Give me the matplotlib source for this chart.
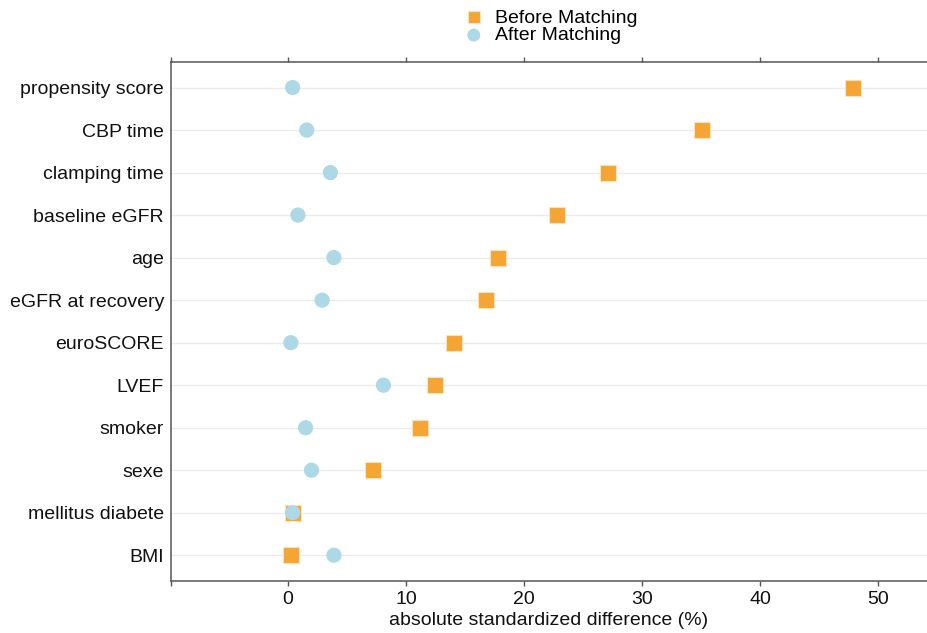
import matplotlib
matplotlib.use("Agg")
import matplotlib.pyplot as plt

plt.rcParams['font.family'] = ['Liberation Sans', 'DejaVu Sans']

variables = ["propensity score", "CBP time", "clamping time", "baseline eGFR", "age",
             "eGFR at recovery", "euroSCORE", "LVEF", "smoker", "sexe",
             "mellitus diabete", "BMI"]
before = [47.9, 35.1, 27.1, 22.8, 17.8, 16.8, 14.1, 12.5, 11.2, 7.2, 0.4, 0.25]
after = [0.4, 1.6, 3.6, 0.85, 3.9, 2.9, 0.25, 8.1, 1.5, 2.0, 0.4, 3.9]
xticks = [0, 10, 20, 30, 40, 50]

fig = plt.figure(figsize=(9.27, 6.33), dpi=100)
ax = fig.add_axes([0.1845, 0.0825, 0.8155, 0.8195])

n = len(variables)
ypos = list(range(n - 1, -1, -1))

for y in ypos:
    ax.axhline(y, color="#ebebeb", lw=1.0, zorder=0)

ax.scatter(before, ypos, marker="s", s=120, color="#F4A533", edgecolors="#FCE3BD",
           linewidths=0.8, label="Before Matching", zorder=3)
ax.scatter(after, ypos, marker="o", s=120, color="#ADD8E6", edgecolors="none",
           label="After Matching", zorder=4)

xmin, xmax = -9.9, 54.15
ax.set_xlim(xmin, xmax)
ax.set_ylim(-0.6, n - 1 + 0.6)
ax.set_yticks(ypos)
ax.set_yticklabels(variables, fontsize=14, color="#111111")
ax.set_xticks(xticks)
ax.set_xticks([xmin], minor=True)
ax.set_xticklabels([str(t) for t in xticks], fontsize=14, color="#111111")
ax.tick_params(axis="y", length=0, pad=5)
ax.tick_params(axis="x", which="both", direction="out", length=3.5, width=1.0,
               color="#555555", top=True, labeltop=False, pad=4)
ax.set_xlabel("absolute standardized difference (%)", fontsize=14, color="#111111", labelpad=3)

for side in ["left", "bottom", "top"]:
    ax.spines[side].set_color("#555555")
    ax.spines[side].set_linewidth(1.1)
ax.spines["right"].set_visible(False)

fig.legend(loc="center", bbox_to_anchor=(0.589, 0.958), frameon=False, fontsize=14,
           handletextpad=0.1, labelspacing=0.0, markerscale=0.85, borderpad=0)

fig.savefig("out.png", dpi=100)
